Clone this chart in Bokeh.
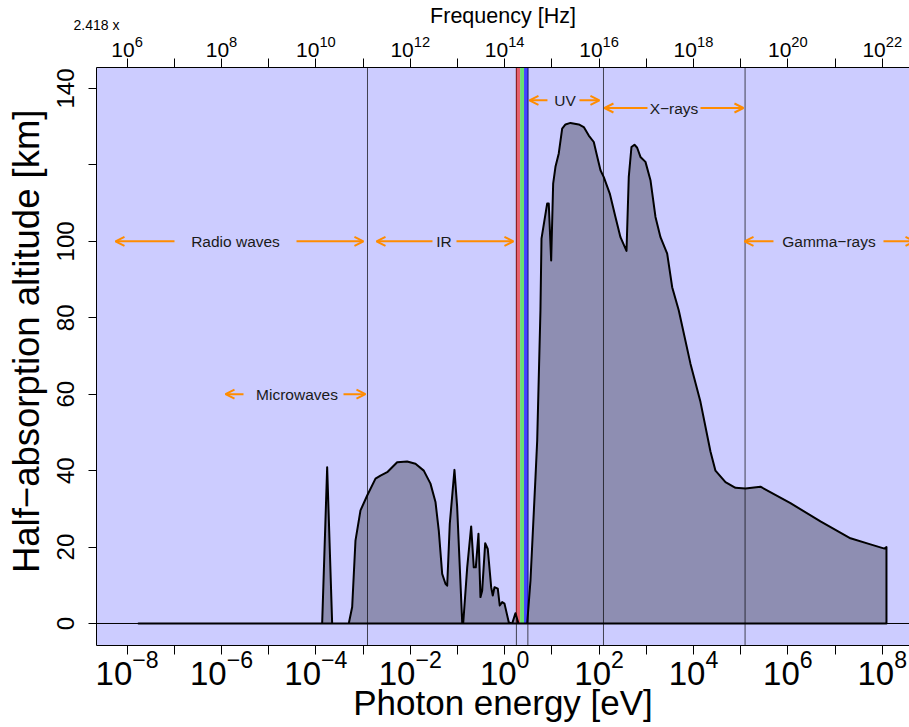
from bokeh.plotting import figure
from bokeh.models import (Range1d, LogScale, LinearScale, LogAxis, LinearAxis, FixedTicker,
                          LogTickFormatter, Span, Arrow, OpenHead, Label)
from bokeh.embed import file_html
from bokeh.resources import INLINE

# ---------------- data ----------------
# half-absorption altitude curve: log10(photon energy / eV) and altitude in km
log_energy = [-7.758, -3.867, -3.761, -3.655, -3.303, -3.231, -3.161, -3.055, -2.913, -2.737,
              -2.631, -2.489, -2.278, -2.066, -1.890, -1.714, -1.572, -1.466, -1.396, -1.324,
              -1.254, -1.218, -1.163, -1.064, -1.007, -0.900, -0.879, -0.794, -0.710, -0.655,
              -0.612, -0.555, -0.513, -0.477, -0.413, -0.358, -0.286, -0.252, -0.216, -0.146,
              -0.104, -0.053, -0.004, 0.087, 0.159, 0.229, 0.292, 0.477, 0.547, 0.653,
              0.689, 0.758, 0.780, 0.900, 0.934, 0.985, 1.027, 1.076, 1.146, 1.218,
              1.288, 1.394, 1.570, 1.676, 1.782, 1.888, 1.945, 2.030, 2.100, 2.227,
              2.347, 2.453, 2.581, 2.629, 2.686, 2.750, 2.807, 2.877, 2.983, 3.089,
              3.195, 3.301, 3.443, 3.549, 3.689, 3.936, 4.148, 4.360, 4.466, 4.678,
              4.890, 5.102, 5.420, 6.055, 6.691, 7.326, 7.750, 8.047, 8.089, 8.089]
altitude_km = [0.0, 0.0, 40.9, 0.0, 0.0, 4.3, 21.7, 29.6, 33.5, 37.9,
               38.7, 39.6, 42.2, 42.4, 41.8, 40.0, 36.6, 31.8, 24.3, 13.0,
               10.4, 9.9, 26.1, 40.2, 30.5, 0.3, 0.0, 14.7, 25.4, 14.7,
               14.7, 23.5, 6.9, 8.6, 21.0, 19.5, 9.5, 7.3, 9.5, 9.1,
               4.7, 5.6, 5.2, 0.3, 0.0, 2.7, 0.0, 0.0, 11.3, 38.3,
               47.9, 81.9, 100.7, 109.9, 109.9, 95.0, 115.1, 119.5, 123.0, 129.5,
               130.6, 131.0, 130.6, 129.9, 127.7, 126.0, 123.0, 118.6, 116.8, 112.5,
               106.4, 101.1, 97.5, 116.8, 124.7, 125.3, 124.5, 122.1, 120.8, 116.0,
               106.4, 101.1, 96.8, 88.0, 81.9, 68.0, 58.0, 45.0, 40.0, 37.0,
               35.5, 35.3, 35.8, 31.5, 26.7, 22.3, 20.7, 19.6, 20.0, 0.0]

# region boundaries (eV): 1 mm, 700 nm, 400 nm, 10 nm, 0.01 nm
boundary_ev = [1.2398e-3, 1.771, 3.100, 123.98, 1.2398e5]
# visible band sub-divisions (eV)
visible_edges_ev = [1.771, 2.134, 2.571, 3.100]
visible_colors = ["#e6606e", "#66e070", "#4444ff"]
visible_edge_colors = ["#8b1a1a", "#1a1aa0"]

# spectral region labels (log10 eV)
region_names = ["Radio waves", "Microwaves", "IR", "UV", "X\u2212rays", "Gamma\u2212rays"]
region_lo_log = [-8.246, -5.915, -2.716, 0.525, 2.114, 5.081]
region_hi_log = [-2.992, -2.949, 0.186, 2.008, 5.059, 8.683]
region_mid_log = [-5.703, -4.400, -1.286, 1.277, 3.587, 6.871]
region_alt = [100.0, 60.0, 100.0, 136.9, 134.9, 100.0]

y_ticks = [0, 20, 40, 60, 80, 100, 120, 140]
x_major_exp = list(range(-8, 9, 2))
x_minor_exp = list(range(-7, 9, 2))
FREQ_SHIFT = 14           # top axis: 2.418 x 10^k Hz
FREQ_FACTOR_TEXT = "2.418 x"

# ---------------- layout ----------------
X0, X1 = -8.648, 8.577
Y0, Y1 = -5.76, 145.5
FRAME_W = 909 - 96
PXD = FRAME_W / (X1 - X0)   # pixels per decade
gap_left = [61, 53.5, 11.5, 17.5, 26.5, 55.5]
gap_right = [61, 46.5, 12.5, 14.5, 26.5, 54.5]

FONT = "Liberation Sans"
ORANGE = "#ff8c00"

p = figure(width=909, height=727, x_axis_type="log",
           x_range=Range1d(10 ** X0, 10 ** X1), y_range=Range1d(Y0, Y1),
           output_backend="svg", toolbar_location=None,
           min_border_left=96, min_border_right=0, min_border_top=67, min_border_bottom=82,
           background_fill_color="#ccccff", border_fill_color="white",
           outline_line_color=None)
p.grid.visible = False

for b in boundary_ev:
    p.add_layout(Span(location=b, dimension="height", line_color="#404050",
                      line_width=1, level="underlay"))

# visible band (from the ground line upwards)
p.quad(left=visible_edges_ev[:-1], right=visible_edges_ev[1:], bottom=0, top=400,
       fill_color=visible_colors, line_color=None)
p.segment(x0=[visible_edges_ev[0], visible_edges_ev[-1]], y0=0,
          x1=[visible_edges_ev[0], visible_edges_ev[-1]], y1=400,
          line_color=visible_edge_colors, line_width=1)

energy_ev = [10 ** e for e in log_energy]
p.patch(energy_ev, altitude_km, fill_color="black", fill_alpha=0.3,
        line_color="black", line_width=2, line_join="round")

p.add_layout(Span(location=0, dimension="width", line_color="black", line_width=1))

for name, lo, hi, mid, alt, gl, gr in zip(region_names, region_lo_log, region_hi_log,
                                          region_mid_log, region_alt, gap_left, gap_right):
    p.add_layout(Label(x=10 ** mid, y=alt, text=name, text_align="center",
                       text_baseline="middle", text_font=FONT, text_font_size="15.5px",
                       text_color="#1a1a1a"))
    tl = mid - gl / PXD
    tr = mid + gr / PXD
    p.add_layout(Arrow(x_start=10 ** tl, y_start=alt, x_end=10 ** lo, y_end=alt,
                       line_color=ORANGE, line_width=2,
                       end=OpenHead(size=9, line_color=ORANGE, line_width=2)))
    p.add_layout(Arrow(x_start=10 ** tr, y_start=alt, x_end=10 ** hi, y_end=alt,
                       line_color=ORANGE, line_width=2,
                       end=OpenHead(size=9, line_color=ORANGE, line_width=2)))

def style_axis(ax, label_size, title_size):
    ax.axis_line_color = "black"
    ax.axis_line_width = 1
    ax.major_tick_line_color = "black"
    ax.minor_tick_line_color = "black"
    ax.major_tick_in = 0
    ax.minor_tick_in = 0
    ax.major_tick_out = 9
    ax.minor_tick_out = 9
    ax.major_label_text_font = FONT
    ax.major_label_text_font_size = label_size
    ax.major_label_text_color = "black"
    ax.axis_label_text_font = FONT
    ax.axis_label_text_font_size = title_size
    ax.axis_label_text_font_style = "normal"
    ax.axis_label_text_color = "black"

# bottom axis
xb = p.xaxis[0]
xb.ticker = FixedTicker(ticks=[10.0 ** k for k in x_major_exp],
                        minor_ticks=[10.0 ** k for k in x_minor_exp])
xb.formatter = LogTickFormatter()
xb.axis_label = "Photon energy [eV]"
style_axis(xb, "33px", "35px")
xb.major_label_standoff = -5
xb.axis_label_standoff = -5

# left axis
yl = p.yaxis[0]
yl.ticker = FixedTicker(ticks=y_ticks, minor_ticks=[])
yl.major_label_overrides = {120: ""}
yl.major_label_orientation = "vertical"
yl.axis_label = "\u00a0\u00a0\u00a0Half\u2212absorption altitude [km]"
style_axis(yl, "24px", "36.5px")
yl.major_tick_out = 8
yl.major_label_standoff = 14
yl.axis_label_standoff = 8

# top axis (frequency)
p.extra_x_ranges = {"freq": Range1d(10 ** (X0 + FREQ_SHIFT), 10 ** (X1 + FREQ_SHIFT)),
                    "lab": Range1d(-1e-6, 1)}
p.extra_x_scales = {"freq": LogScale(), "lab": LinearScale()}
xt = LogAxis(x_range_name="freq",
             ticker=FixedTicker(ticks=[10.0 ** (k + FREQ_SHIFT) for k in x_major_exp],
                                minor_ticks=[10.0 ** (k + FREQ_SHIFT) for k in x_minor_exp]),
             formatter=LogTickFormatter())
style_axis(xt, "21px", "21.5px")
xt.major_label_standoff = 2
p.add_layout(xt, "above")

# outer top strip: multiplier note at the left corner + axis title
xo = LinearAxis(x_range_name="lab", ticker=FixedTicker(ticks=[0.0], minor_ticks=[]),
                axis_label="Frequency [Hz]")
style_axis(xo, "14px", "21.5px")
xo.major_label_overrides = {0: FREQ_FACTOR_TEXT}
xo.axis_line_color = None
xo.major_tick_line_color = None
xo.major_tick_out = 0
xo.minor_tick_out = 0
xo.major_label_standoff = 0
xo.axis_label_standoff = -14
p.add_layout(xo, "above")

open("out.html", "w").write(file_html(p, INLINE))
